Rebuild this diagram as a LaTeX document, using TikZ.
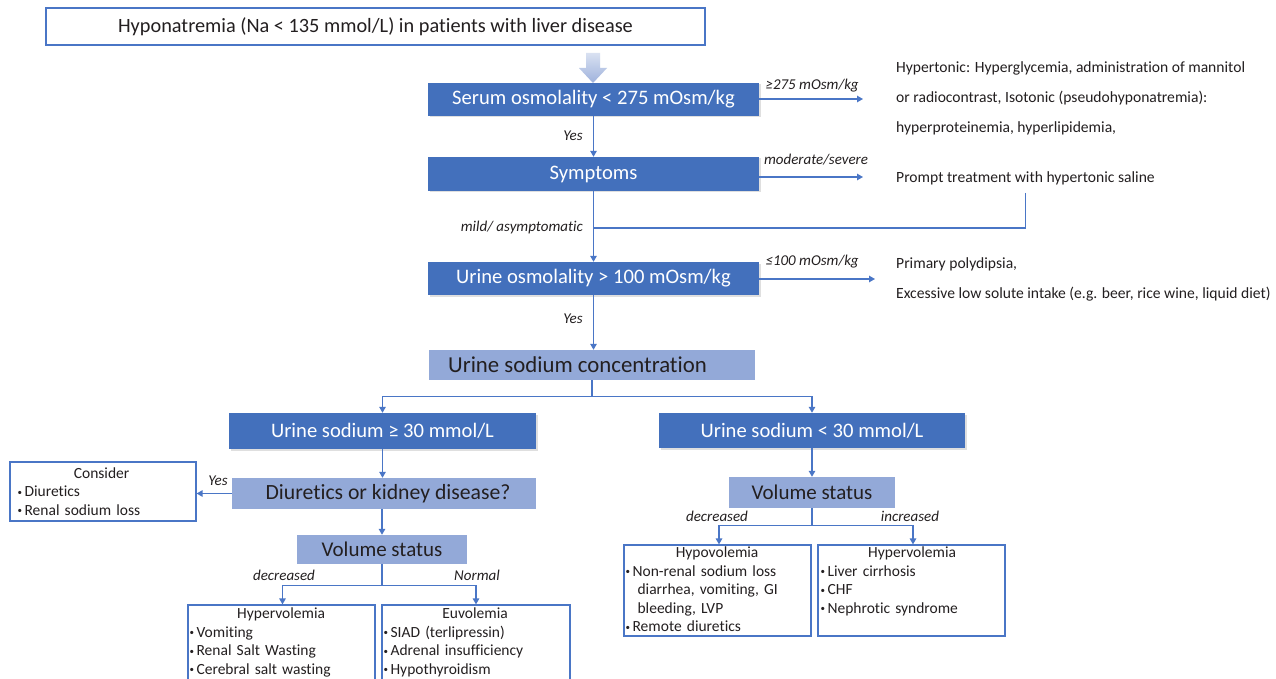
\documentclass[tikz,border=0pt]{standalone}
\usepackage{fontspec}
\setmainfont{Carlito}[Ligatures=CommonOff]
\usetikzlibrary{arrows.meta,shadows}
\definecolor{dkb}{HTML}{4370BC}
\definecolor{ltb}{HTML}{93A9D8}
\definecolor{ln}{HTML}{4A76C6}
\definecolor{txt}{HTML}{231F20}
\newcommand\itm{{\fontsize{9}{9}\selectfont\raisebox{0.18em}{•}}\kern2.5pt}
\begin{document}
\begin{tikzpicture}[x=1pt,y=-1pt,
  every node/.style={text=txt},
  conn/.style={draw=ln, line width=1.3pt},
  arr/.style={conn, -{Triangle[width=6.5pt,length=6pt]}},
  dkbox/.style 2 args={fill=dkb, text=white, minimum width=#1, minimum height=#2, inner sep=0pt,
    font=\fontsize{20.6}{22}\selectfont,
    drop shadow={opacity=0.25, shadow xshift=1.5pt, shadow yshift=-1.5pt}},
  ltbox/.style 2 args={fill=ltb, text=txt, minimum width=#1, minimum height=#2, inner sep=0pt,
    font=\fontsize{21}{23}\selectfont},
  wbox/.style 2 args={draw=ln, line width=1.2pt, fill=white, minimum width=#1, minimum height=#2, inner sep=0pt},
  boxtext/.style={anchor=north west, inner sep=0pt, align=left, text width=#1,
    font=\fontsize{15.5}{18.5}\selectfont},
  lab/.style={font=\fontsize{15}{16}\selectfont\itshape, inner sep=0pt},
  side/.style={font=\fontsize{15.6}{30}\selectfont, align=left, anchor=west, inner sep=0pt}
]
\fill[white] (0,0) rectangle (1276,679);
\clip (0,0) rectangle (1276,679);

% top box
\node[wbox={659}{37}, font=\fontsize{20.3}{22}\selectfont] (top) at (375.5,26.5)
  {Hyponatremia (Na < 135 mmol/L) in patients with liver disease};

% main chain
\node[dkbox={331}{33}] (serum) at (593.5,99.5) {Serum osmolality < 275 mOsm/kg};
\node[dkbox={331}{34}] (symp) at (593.5,174) {Symptoms};
\node[dkbox={331}{33}] (uosm) at (593.5,278.5) {Urine osmolality > 100 mOsm/kg};
\node[ltbox={326}{30}, font=\fontsize{22.8}{24}\selectfont] (una) at (592,365) {Urine sodium concentration\hspace*{29pt}};

% fat arrow
\shade[top color=ltb!35, bottom color=ltb!90]
  (586,53) -- (600,53) -- (600,68) -- (607,68) -- (593,83) -- (579,68) -- (586,68) -- cycle;

% side texts
\node[side] (hyper) at (896,98) {Hypertonic: Hyperglycemia, administration of mannitol\\
  or radiocontrast, Isotonic (pseudohyponatremia):\\ hyperproteinemia, hyperlipidemia,};
\node[side] (prompt) at (896,178) {Prompt treatment with hypertonic saline};
\node[side] (poly) at (896,279) {Primary polydipsia,\\
  Excessive low solute intake (e.g. beer, rice wine, liquid diet)};

\coordinate (e1) at (863,99);
\coordinate (e2) at (863,177);
\coordinate (e3) at (875,279);
\coordinate (join) at (593.5,228);

\draw[arr] (serum.east |- e1) -- (e1);
\draw[arr] (symp.east |- e2) -- (e2);
\draw[arr] (uosm.east |- e3) -- (e3);
\node[lab] at (812,86) {≥275 mOsm/kg};
\node[lab] at (816,160) {moderate/severe};
\node[lab] at (812,262) {≤100 mOsm/kg};

\draw[arr] (serum) -- (symp);
\node[lab] at (573,136) {Yes};
\draw[arr] (symp) -- (uosm);
\draw[conn] ([yshift=-8pt]prompt.south) |- (join);
\node[lab, anchor=east] at (583,228) {mild/ asymptomatic};
\draw[arr] (uosm.south) -- (uosm.south |- una.north);
\node[lab] at (573,319) {Yes};

% second level
\node[dkbox={307}{36}] (ge) at (382.5,431) {Urine sodium ≥ 30 mmol/L};
\node[dkbox={306}{35}] (lt) at (812,430.5) {Urine sodium < 30 mmol/L};
\draw[conn] (una.south) -- ++(0,16) coordinate (split);
\draw[arr] (split) -| (ge.north);
\draw[arr] (split) -| (lt.north);

% left branch
\node[ltbox={304}{31}, font=\fontsize{21.7}{23}\selectfont] (diur) at (384,493.5) {\hspace*{8pt}Diuretics or kidney disease?};
\node[wbox={186}{59}] (cons) at (103,491.5) {};
\node[boxtext=176pt] at ([xshift=8pt,yshift=-6pt]cons.north west)
  {\makebox[168pt][c]{Consider}\\ \itm Diuretics\\ \itm Renal sodium loss};
\draw[arr] (ge) -- (ge.south |- diur.north);
\draw[arr] (diur.west) -- (diur.west -| cons.east);
\node[lab] at (218,481) {Yes};

\node[ltbox={170}{29}] (voll) at (382,549.5) {Volume status};
\draw[arr] (diur.south -| voll.north) -- (voll.north);
\node[wbox={187}{90}] (hypl) at (281.5,650) {};
\node[wbox={188}{90}] (euv) at (476,650) {};
\node[boxtext=183pt] at ([xshift=2pt,yshift=-3.5pt]hypl.north west)
  {\makebox[183pt][c]{Hypervolemia}\\ \itm Vomiting\\ \itm Renal Salt Wasting\\ \itm Cerebral salt wasting};
\node[boxtext=183pt] at ([xshift=2pt,yshift=-3.5pt]euv.north west)
  {\makebox[183pt][c]{Euvolemia}\\ \itm SIAD (terlipressin)\\ \itm Adrenal insufficiency\\ \itm Hypothyroidism};
\draw[conn] (voll.south) -- ++(0,21) coordinate (splitl);
\draw[arr] (splitl) -| ([xshift=1pt]hypl.north);
\draw[arr] (splitl) -| (euv.north);
\node[lab] at (284,575) {decreased};
\node[lab] at (477,575) {Normal};

% right branch
\node[ltbox={166}{31}] (volr) at (812,492.5) {Volume status};
\draw[arr] (lt) -- (volr);
\node[wbox={187}{91}] (hypo) at (717.5,590.5) {};
\node[wbox={187}{91}] (hypr) at (911.5,590.5) {};
\node[boxtext=183pt] at ([xshift=2pt,yshift=-2.5pt]hypo.north west)
  {\makebox[183pt][c]{Hypovolemia}\\ \itm Non-renal sodium loss\\ \hspace*{12pt}diarrhea, vomiting, GI\\ \hspace*{12pt}bleeding, LVP\\ \itm Remote diuretics};
\node[boxtext=183pt] at ([xshift=3pt,yshift=-2.5pt]hypr.north west)
  {\makebox[183pt][c]{Hypervolemia}\\ \itm Liver cirrhosis\\ \itm CHF\\ \itm Nephrotic syndrome};
\draw[conn] (volr.south) -- ++(0,17) coordinate (splitr);
\draw[arr] (splitr) -| ([xshift=1.5pt]hypo.north);
\draw[arr] (splitr) -| ([xshift=1.5pt]hypr.north);
\node[lab] at (717,516) {decreased};
\node[lab] at (910,516) {increased};
\end{tikzpicture}
\end{document}
